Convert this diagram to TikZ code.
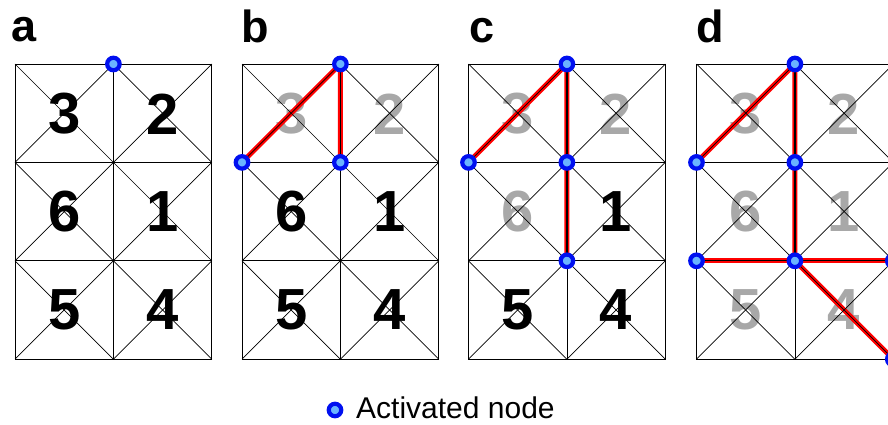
\documentclass[tikz,border=0pt]{standalone}
\usepackage{fontspec}
\setmainfont{Liberation Sans}
\definecolor{actfill}{HTML}{6AB4FF}
\definecolor{actdraw}{HTML}{0010F0}
\definecolor{dimgray}{HTML}{A8A8A8}
\tikzset{
  gridline/.style={draw=black, line width=0.7pt},
  redline/.style={draw=red, line width=5pt},
  redcore/.style={draw=black, line width=0.9pt},
  act/.style={circle, fill=actfill, draw=actdraw, line width=4.2pt, minimum size=12.5pt, inner sep=0pt},
  dig/.style={font=\fontsize{58}{58}\selectfont\bfseries, inner sep=0pt, anchor=center},
  on/.style={text=black},
  off/.style={text=dimgray},
  plabel/.style={font=\fontsize{45}{45}\selectfont\bfseries, inner sep=0pt, anchor=base west},
}
\newcommand\mkcoords[2]{%
  \foreach \i in {0,1,2}{\foreach \j in {0,1,2,3}{%
    \coordinate (#2-\i-\j) at ({#1+\i*98.4},{64+\j*98.4});}}}
\newcommand\drawgrid[1]{%
  \foreach \i in {0,1}{\foreach \j in {0,1,2}{%
    \draw[gridline] ({#1+\i*98.4},{64+\j*98.4}) rectangle ++(98.4,98.4);
    \draw[gridline] ({#1+\i*98.4},{64+\j*98.4}) -- ++(98.4,98.4);
    \draw[gridline] ({#1+\i*98.4+98.4},{64+\j*98.4}) -- ++(-98.4,98.4);}}}
% #1 x0, #2 prefix, #3..#8 styles for digits 3,2,6,1,5,4
\newcommand\digits[8]{%
  \node[dig,#3] (#2-d3) at ({#1+49.2},{114}) {3};
  \node[dig,#4] (#2-d2) at ({#1+147.6},{114}) {2};
  \node[dig,#5] (#2-d6) at ({#1+49.2},{212}) {6};
  \node[dig,#6] (#2-d1) at ({#1+147.6},{212}) {1};
  \node[dig,#7] (#2-d5) at ({#1+49.2},{309.5}) {5};
  \node[dig,#8] (#2-d4) at ({#1+147.6},{309.5}) {4};}
\begin{document}
\begin{tikzpicture}[x=1pt,y=-1pt]
\useasboundingbox (0,0) rectangle (888,425);
\clip (0,0) rectangle (888,425);
\fill[white] (0,0) rectangle (888,425);
% coordinates
\mkcoords{15}{a}
\mkcoords{242}{b}
\mkcoords{468.5}{c}
\mkcoords{696.5}{d}
% panel labels
\node[plabel] (la) at (11,42) {a};
\node[plabel] (lb) at (241,43) {b};
\node[plabel] (lc) at (469,43) {c};
\node[plabel] (ld) at (696,43) {d};
% digits
\digits{15}{a}{on}{on}{on}{on}{on}{on}
\digits{242}{b}{off}{off}{on}{on}{on}{on}
\digits{468.5}{c}{off}{off}{off}{on}{on}{on}
\digits{696.5}{d}{off}{off}{off}{off}{off}{off}
% red paths
\draw[redline] (b-0-1) -- (b-1-0) -- (b-1-1);
\draw[redline] (c-0-1) -- (c-1-0) -- (c-1-1) -- (c-1-2);
\draw[redline] (d-0-1) -- (d-1-0) -- (d-1-1) -- (d-1-2);
\draw[redline] (d-0-2) -- (d-1-2) -- (d-2-2);
\draw[redline] (d-1-2) -- (d-2-3);
% grids
\drawgrid{15}
\drawgrid{242}
\drawgrid{468.5}
\drawgrid{696.5}
\draw[redcore] (b-1-0) -- (b-1-1);
\draw[redcore] (c-1-0) -- (c-1-2);
\draw[redcore] (d-1-0) -- (d-1-2);
% activated nodes
\node[act] (a-n1) at (a-1-0) {};
\node[act] (b-n1) at (b-1-0) {};
\node[act] (b-n2) at (b-0-1) {};
\node[act] (b-n3) at (b-1-1) {};
\node[act] (c-n1) at (c-1-0) {};
\node[act] (c-n2) at (c-0-1) {};
\node[act] (c-n3) at (c-1-1) {};
\node[act] (c-n4) at (c-1-2) {};
\node[act] (d-n1) at (d-1-0) {};
\node[act] (d-n2) at (d-0-1) {};
\node[act] (d-n3) at (d-1-1) {};
\node[act] (d-n4) at (d-0-2) {};
\node[act] (d-n5) at (d-1-2) {};
\node[act] (d-n6) at (d-2-2) {};
\node[act] (d-n7) at (d-2-3) {};
% legend
\node[act] (leg) at (335,410) {};
\node[font=\fontsize{30}{30}\selectfont, inner sep=0pt, anchor=base west] (legtext) at (356,418.5) {Activated node};
\end{tikzpicture}
\end{document}
